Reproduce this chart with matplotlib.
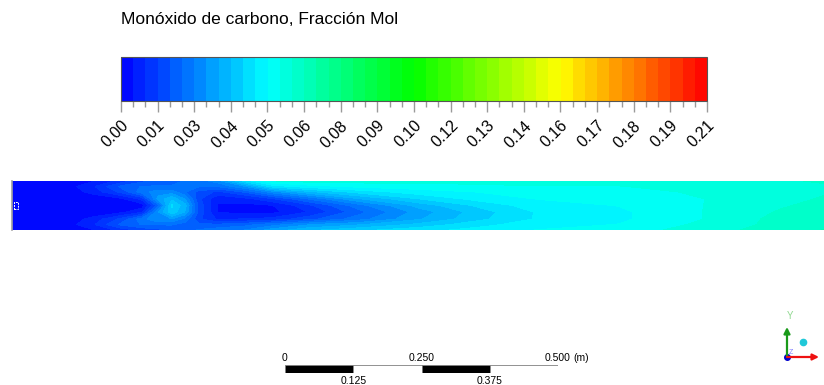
import numpy as np
import matplotlib.pyplot as plt
import matplotlib.transforms as mtransforms
from matplotlib.colors import LinearSegmentedColormap
from matplotlib.ticker import FixedLocator
from matplotlib.patches import Rectangle

plt.rcParams['font.family'] = ['Liberation Sans', 'DejaVu Sans']

# CO mole fraction sampled along the channel (x in m, y in m from the axis)
x_st = [0.0, 0.10, 0.15, 0.20, 0.24, 0.27, 0.295, 0.32, 0.345, 0.38, 0.43,
        0.48, 0.55, 0.64, 0.75, 0.86, 0.97, 1.12, 1.27, 1.42, 1.50]
y_st = [0.045, 0.035, 0.025, 0.012, 0.0, -0.012, -0.025, -0.035, -0.045]
co_frac = np.array([
    # one row per x station, columns from top wall to bottom wall
    [0.000, 0.000, 0.000, 0.000, 0.000, 0.000, 0.000, 0.000, 0.000],
    [0.002, 0.002, 0.001, 0.000, 0.000, 0.000, 0.001, 0.002, 0.002],
    [0.004, 0.008, 0.006, 0.001, 0.000, 0.001, 0.006, 0.008, 0.004],
    [0.010, 0.018, 0.014, 0.003, 0.001, 0.003, 0.014, 0.018, 0.010],
    [0.016, 0.022, 0.024, 0.010, 0.002, 0.008, 0.024, 0.022, 0.014],
    [0.018, 0.022, 0.028, 0.032, 0.020, 0.030, 0.030, 0.022, 0.016],
    [0.020, 0.022, 0.028, 0.038, 0.044, 0.042, 0.030, 0.022, 0.018],
    [0.022, 0.022, 0.022, 0.030, 0.036, 0.034, 0.024, 0.020, 0.020],
    [0.024, 0.022, 0.016, 0.014, 0.016, 0.016, 0.014, 0.018, 0.022],
    [0.028, 0.022, 0.012, 0.005, 0.004, 0.004, 0.008, 0.018, 0.024],
    [0.045, 0.030, 0.018, 0.007, 0.003, 0.003, 0.009, 0.020, 0.026],
    [0.056, 0.045, 0.028, 0.012, 0.004, 0.003, 0.010, 0.024, 0.032],
    [0.058, 0.050, 0.038, 0.022, 0.012, 0.009, 0.016, 0.030, 0.038],
    [0.058, 0.053, 0.045, 0.034, 0.024, 0.020, 0.024, 0.034, 0.042],
    [0.058, 0.054, 0.050, 0.043, 0.036, 0.032, 0.034, 0.040, 0.046],
    [0.058, 0.055, 0.052, 0.049, 0.044, 0.041, 0.042, 0.046, 0.049],
    [0.058, 0.056, 0.054, 0.052, 0.050, 0.048, 0.048, 0.050, 0.052],
    [0.058, 0.056, 0.054, 0.053, 0.052, 0.051, 0.051, 0.052, 0.054],
    [0.059, 0.058, 0.057, 0.056, 0.056, 0.056, 0.056, 0.057, 0.058],
    [0.060, 0.059, 0.059, 0.059, 0.060, 0.061, 0.062, 0.062, 0.063],
    [0.061, 0.060, 0.060, 0.061, 0.062, 0.063, 0.064, 0.064, 0.065],
])

co_max = 0.2075
n_bands = 48
tick_labels = ['0.00', '0.01', '0.03', '0.04', '0.05', '0.06', '0.08', '0.09',
               '0.10', '0.12', '0.13', '0.14', '0.16', '0.17', '0.18', '0.19',
               '0.21']
scale_ticks = [0.0, 0.125, 0.25, 0.375, 0.5]
scale_top = ['0', '0.250', '0.500']
scale_bottom = ['0.125', '0.375']

W, H = 824, 385
fig = plt.figure(figsize=(W / 100, H / 100), dpi=100)


def px_axes(x0, y0, x1, y1):
    return fig.add_axes([x0 / W, 1 - y1 / H, (x1 - x0) / W, (y1 - y0) / H])


rainbow = LinearSegmentedColormap.from_list(
    'fluent', ['#0000ff', '#00ffff', '#00ff00', '#ffff00', '#ff0000'])
levels = np.linspace(0, co_max, n_bands + 1)

# contour field
ax = px_axes(12, 181, 824, 230)
X, Y = np.meshgrid(x_st, y_st, indexing='ij')
cs = ax.contourf(X, Y, co_frac, levels=levels, cmap=rainbow)
ax.set_xlim(0, 1.5)
ax.set_ylim(-0.045, 0.045)
ax.set_xticks([])
ax.set_yticks([])
for side in ['top', 'bottom', 'right']:
    ax.spines[side].set_visible(False)
ax.spines['left'].set_color('#a0a0a0')
ax.spines['left'].set_linewidth(1.2)
# inlet marker
ax.add_patch(Rectangle((0.004, -0.006), 0.008, 0.012, fill=False,
                       ec='white', lw=0.7, ls=(0, (2, 1))))

# colour legend
cax = px_axes(121, 57, 707, 101)
cb = fig.colorbar(cs, cax=cax, orientation='horizontal')
cb.set_ticks(np.linspace(0, co_max, len(tick_labels)))
cb.set_ticklabels(tick_labels)
cb.ax.xaxis.set_minor_locator(FixedLocator(levels))
cb.ax.tick_params(which='major', length=8, width=1, color='#9a9a9a',
                  labelsize=11.5, pad=8)
cb.ax.tick_params(which='minor', length=4, width=1, color='#9a9a9a')
cb.outline.set_linewidth(0.8)
cb.outline.set_edgecolor('#555555')
shift = mtransforms.ScaledTranslation(5 / 100, 0, fig.dpi_scale_trans)
for lab in cb.ax.get_xticklabels():
    lab.set_rotation(45)
    lab.set_ha('right')
    lab.set_va('center')
    lab.set_rotation_mode('anchor')
    lab.set_transform(lab.get_transform() + shift)

fig.text(121 / W, 1 - 19 / H, 'Monóxido de carbono, Fracción Mol',
         fontsize=12.5, va='center', ha='left')

# scale bar in metres
sax = px_axes(285, 365, 558, 373)
for i in range(len(scale_ticks) - 1):
    sax.add_patch(Rectangle((scale_ticks[i], 0), scale_ticks[i + 1] - scale_ticks[i], 1,
                            fc='black' if i % 2 == 0 else 'white',
                            ec='#808080', lw=0.6))
sax.set_xlim(0, 0.5)
sax.set_ylim(0, 1)
sax.axis('off')
for pos, txt in zip(scale_ticks[::2], scale_top):
    sax.text(pos, 1.9, txt, ha='center', va='center', fontsize=7.5)
sax.text(0.5 + 0.028, 1.9, '(m)', ha='left', va='center', fontsize=7.5)
for pos, txt in zip(scale_ticks[1::2], scale_bottom):
    sax.text(pos, -1.0, txt, ha='center', va='center', fontsize=7.5)

# axis triad
tax = px_axes(770, 305, 824, 370)
tax.set_xlim(770, 824)
tax.set_ylim(370, 305)
tax.axis('off')
tax.annotate('', xy=(787, 327), xytext=(787, 357),
             arrowprops=dict(arrowstyle='-|>', color='#1a9a1a', lw=1.6,
                             mutation_scale=9, shrinkA=0, shrinkB=0))
tax.annotate('', xy=(819, 357), xytext=(787, 357),
             arrowprops=dict(arrowstyle='-|>', color='#ee1111', lw=1.6,
                             mutation_scale=9, shrinkA=0, shrinkB=0))
tax.text(790, 316, 'Y', color='#90d890', fontsize=7, ha='center', va='center')
tax.text(791, 352, 'Z', color='#8080ff', fontsize=5, ha='center', va='center')
tax.plot([803], [342], 'o', color='#20c8d8', ms=4.5)
tax.plot([787], [357], 'o', color='#0000cc', ms=4)

fig.savefig('out.png', dpi=100)
